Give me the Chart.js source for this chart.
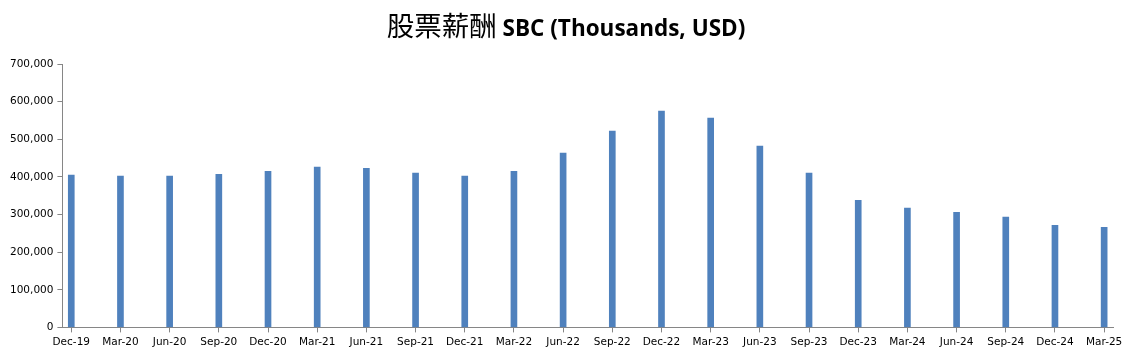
<!DOCTYPE html>
<html>
<head>
<meta charset="utf-8">
<script src="https://cdn.jsdelivr.net/npm/chart.js@4/dist/chart.umd.min.js"></script>
<style>
  html, body { margin: 0; padding: 0; background: #fff; }
  #wrap { width: 1139px; height: 361px; }
</style>
</head>
<body>
<div id="wrap"><canvas id="sbcChart"></canvas></div>
<script>
// quarter-end labels and stock based compensation (thousands USD)
const quarters = ['Dec-19', 'Mar-20', 'Jun-20', 'Sep-20', 'Dec-20', 'Mar-21', 'Jun-21', 'Sep-21',
  'Dec-21', 'Mar-22', 'Jun-22', 'Sep-22', 'Dec-22', 'Mar-23', 'Jun-23', 'Sep-23',
  'Dec-23', 'Mar-24', 'Jun-24', 'Sep-24', 'Dec-24', 'Mar-25'];
const sbcValues = [405000, 402000, 402000, 407000, 415000, 426000, 423000, 410000,
  402000, 415000, 463000, 522000, 575000, 556000, 482000, 410000,
  338000, 317000, 306000, 293000, 271000, 266000];
const yMin = 0;
const yMax = 700000;
const yStep = 100000;

const titleCjk = '股票薪酬';
const titleLatin = ' SBC (Thousands, USD)';

// title has two fonts in the original, so draw it by hand
const mixedTitle = {
  id: 'mixedTitle',
  afterDraw(chart) {
    const ctx = chart.ctx;
    ctx.save();
    const cjkFont = '27.5px "Noto Sans CJK TC", "Noto Sans CJK SC", sans-serif';
    const latinFont = 'bold 22.5px "Open Sans", "Liberation Sans", sans-serif';
    ctx.font = cjkFont;
    const w1 = ctx.measureText(titleCjk).width;
    ctx.font = latinFont;
    const w2 = ctx.measureText(titleLatin).width;
    let x = 566 - (w1 + w2) / 2;
    const y = 36;
    ctx.fillStyle = '#000';
    ctx.textBaseline = 'alphabetic';
    ctx.font = cjkFont;
    ctx.fillText(titleCjk, x, y);
    ctx.font = latinFont;
    ctx.fillText(titleLatin, x + w1, y);
    ctx.restore();
  }
};

const ctx = document.getElementById('sbcChart');
const sbcChart = new Chart(ctx, {
  type: 'bar',
  data: {
    datasets: [{
      label: 'SBC',
      data: sbcValues.map((v, i) => ({ x: i, y: v })),
      backgroundColor: '#4F81BD',
      barThickness: 6
    }]
  },
  options: {
    responsive: true,
    maintainAspectRatio: false,
    animation: false,
    layout: { padding: { top: 64, left: 6, right: 26, bottom: 8 } },
    plugins: {
      legend: { display: false },
      title: { display: false },
      tooltip: { enabled: false }
    },
    scales: {
      x: {
        type: 'linear',
        offset: false,
        min: -0.18,
        max: quarters.length - 1 + 0.18,
        grid: { drawOnChartArea: false, offset: false, color: '#868686', tickLength: 5 },
        border: { color: '#868686' },
        ticks: {
          stepSize: 1,
          includeBounds: false,
          autoSkip: false,
          maxRotation: 0,
          color: '#000',
          padding: 4,
          font: { family: '"DejaVu Sans"', size: 10.5 },
          callback: (v) => quarters[v] !== undefined && Number.isInteger(v) ? quarters[v] : ''
        }
      },
      y: {
        min: yMin,
        max: yMax,
        grid: { drawOnChartArea: false, color: '#868686', tickLength: 5 },
        border: { color: '#868686' },
        ticks: {
          stepSize: yStep,
          color: '#000',
          padding: 4,
          font: { family: '"DejaVu Sans"', size: 10.5 },
          callback: (v) => v.toLocaleString('en-US')
        }
      }
    }
  },
  plugins: [mixedTitle]
});
</script>
</body>
</html>
